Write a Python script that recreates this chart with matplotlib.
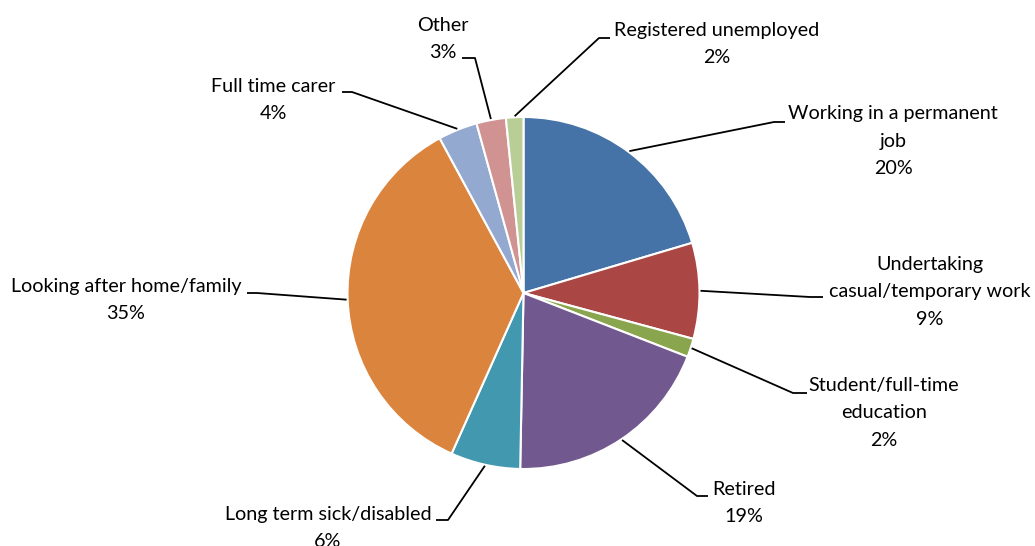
import matplotlib
matplotlib.use("Agg")
import matplotlib.pyplot as plt
import numpy as np

# slice values (percent), clockwise from 12 o'clock
categories = ["Working in a permanent job", "Undertaking casual/temporary work",
              "Student/full-time education", "Retired", "Long term sick/disabled",
              "Looking after home/family", "Full time carer", "Other",
              "Registered unemployed"]
values = [20.4, 8.8, 1.7, 19.4, 6.4, 35.4, 3.6, 2.7, 1.6]
label_text = ["Working in a permanent\njob", "Undertaking\ncasual/temporary work",
              "Student/full-time\neducation", "Retired", "Long term sick/disabled",
              "Looking after home/family", "Full time carer", "Other",
              "Registered unemployed"]
colors = ["#4572A7", "#AA4643", "#89A54E", "#71588F", "#4198AF",
          "#DB843D", "#93A9CF", "#D19392", "#B9CD96"]

# layout (pixels, y down): label centre, elbow of leader, end of leader at text
label_pos = [(893, 141), (930, 292), (884, 413), (744, 503), (328, 528),
             (126, 300), (273, 100), (443, 39), (717, 44)]
elbow = [(774, 122), (810, 297), (793, 393), (697, 496), (448, 520),
         (257, 293), (352, 92), (475, 58), (599, 38)]
tip = [(785, 122), (823, 297), (807, 393), (708, 496), (436, 520),
       (247, 293), (342, 92), (462, 58), (610, 38)]

W, H = 1035, 546
cx, cy, r = 523.5, 293, 176

fig = plt.figure(figsize=(W / 100, H / 100), dpi=100)
ax = fig.add_axes([0, 0, 1, 1])

wedges, _ = ax.pie(values, colors=colors, startangle=-90, counterclock=True,
                   center=(cx, cy), radius=r,
                   wedgeprops=dict(edgecolor="white", linewidth=1.5))
ax.set_xlim(0, W)
ax.set_ylim(H, 0)
ax.set_aspect("equal")
ax.axis("off")

total = sum(values)
for i, w in enumerate(wedges):
    mid = np.deg2rad((w.theta1 + w.theta2) / 2)
    sx = cx + (r + 1) * np.cos(mid)
    sy = cy + (r + 1) * np.sin(mid)
    ax.plot([sx, elbow[i][0], tip[i][0]], [sy, elbow[i][1], tip[i][1]],
            color="black", lw=1.3, solid_capstyle="butt")
    pct = f"{values[i] / total * 100:.0f}%"
    ax.text(label_pos[i][0], label_pos[i][1], label_text[i] + "\n" + pct,
            ha="center", va="center", fontsize=14.2, family="Lato",
            color="black", linespacing=1.72)

fig.savefig("out.png", dpi=100)
